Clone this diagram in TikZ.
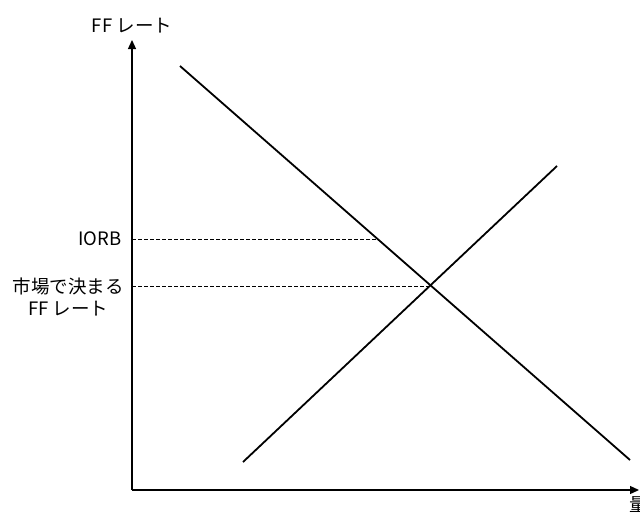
\documentclass[tikz,border=0pt]{standalone}
\usepackage{fontspec}
\setmainfont{Noto Sans CJK JP}
\usetikzlibrary{arrows.meta}
\begin{document}
\begin{tikzpicture}[x=1pt,y=-1pt,font=\fontsize{18.5}{22}\selectfont]
            \useasboundingbox (0,0) rectangle (640,520);
            \clip (0,0) rectangle (640,520);
            \coordinate (O) at (132,490);
            \draw[-{Triangle[length=9pt,width=8pt]}, line width=1.3pt] (O) -- (132,40) node[above=3pt] {FF レート};
            \draw[-{Triangle[length=9pt,width=8pt]}, line width=1.3pt] (O) -- (639,490) node[below=3pt] {量};

            \draw[line width=1.8pt] (180,66) -- (630,460);
            \draw[line width=1.8pt] (243,462) -- (557,166);

            \draw[dashed, dash pattern=on 3.5pt off 2.5pt, line width=0.7pt] (132,239) -- (377,239);
            \draw[dashed, dash pattern=on 3.5pt off 2.5pt, line width=0.7pt] (132,286) -- (430,286);
            \node[anchor=east] at (125,239) {IORB};
            \node[anchor=east, align=center, inner sep=2pt] at (126,297) {市場で決まる\\FF レート};
        \end{tikzpicture}
\end{document}
